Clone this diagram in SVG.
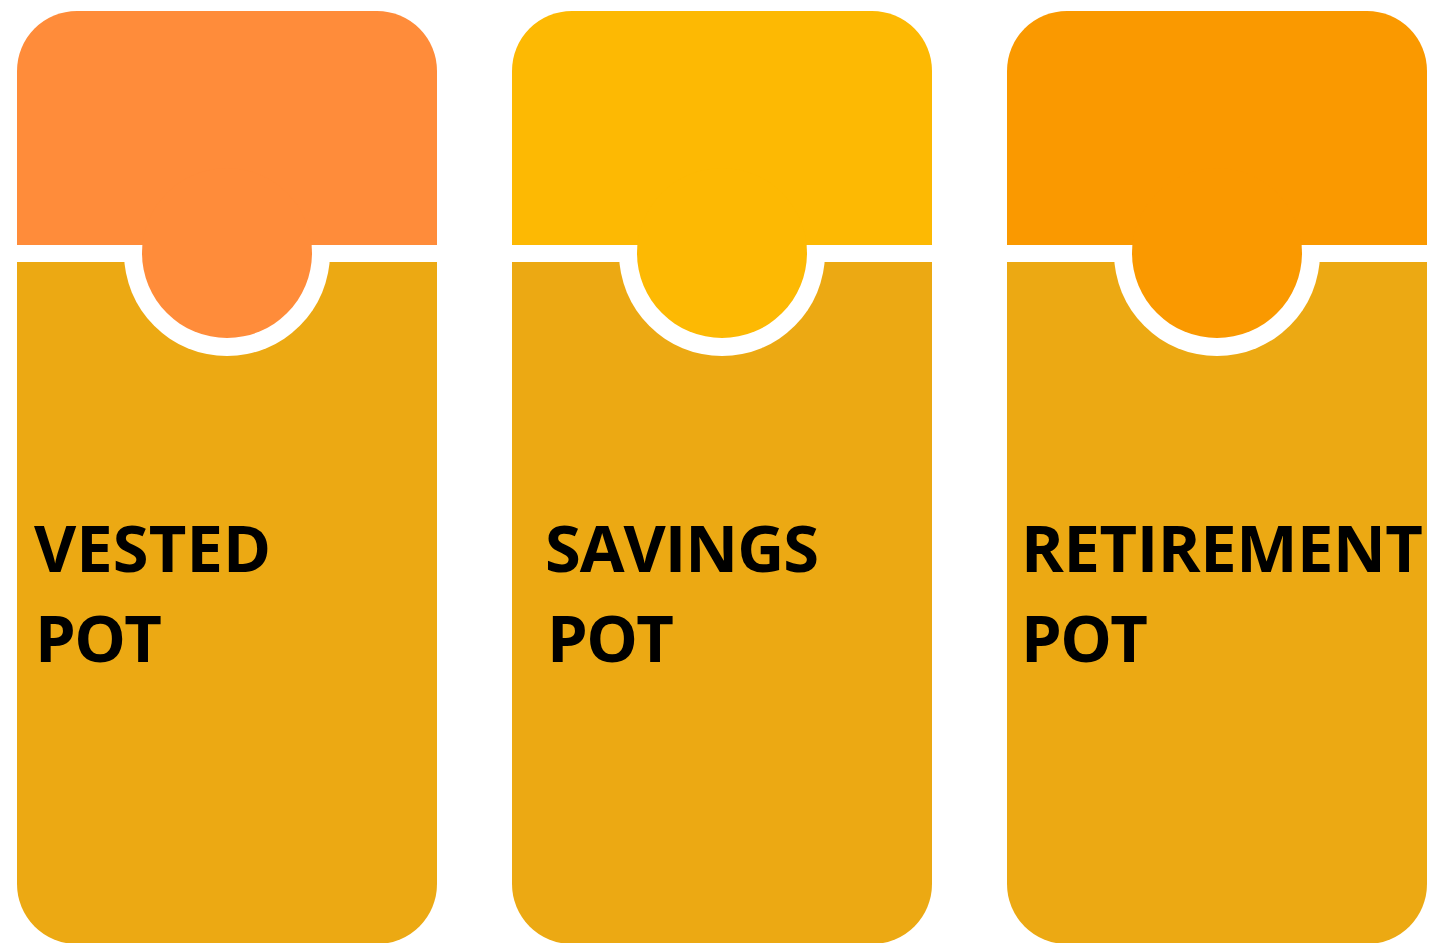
<svg xmlns="http://www.w3.org/2000/svg" width="1430" height="943" viewBox="0 0 1430 943">
<style>
.bot{fill:#ECA913}
.ring{fill:#FFFFFF}
.lbl{font-family:"Open Sans","Noto Sans","Liberation Sans",sans-serif;font-weight:700;font-size:65px;fill:#000}
</style>
<defs>
<path id="topShape" d="M0,60 A60,60 0 0 1 60,0 H360 A60,60 0 0 1 420,60 V234 H0 Z"/>
<path id="botShape" d="M0,0 H420 V622 A60,60 0 0 1 360,682 H60 A60,60 0 0 1 0,622 Z"/>
</defs>
<rect width="1430" height="943" fill="#FFFFFF"/>
<g id="vested">
<use href="#botShape" x="17" y="262" class="bot"/>
<circle cx="227" cy="253" r="103" class="ring"/>
<use href="#topShape" x="17" y="11" fill="#FF8C3A"/>
<circle cx="227" cy="253" r="85" fill="#FF8C3A"/>
<text class="lbl" x="34" y="572" textLength="237" lengthAdjust="spacing">VESTED</text>
<text class="lbl" x="35" y="662" textLength="127" lengthAdjust="spacing">POT</text>
</g>
<g id="savings">
<use href="#botShape" x="512" y="262" class="bot"/>
<circle cx="722" cy="253" r="103" class="ring"/>
<use href="#topShape" x="512" y="11" fill="#FDB903"/>
<circle cx="722" cy="253" r="85" fill="#FDB903"/>
<text class="lbl" x="545" y="572" textLength="274" lengthAdjust="spacing">SAVINGS</text>
<text class="lbl" x="547" y="662" textLength="127" lengthAdjust="spacing">POT</text>
</g>
<g id="retirement">
<use href="#botShape" x="1007" y="262" class="bot"/>
<circle cx="1217" cy="253" r="103" class="ring"/>
<use href="#topShape" x="1007" y="11" fill="#FA9900"/>
<circle cx="1217" cy="253" r="85" fill="#FA9900"/>
<text class="lbl" x="1021" y="572" textLength="402" lengthAdjust="spacing">RETIREMENT</text>
<text class="lbl" x="1021" y="662" textLength="127" lengthAdjust="spacing">POT</text>
</g>
<g id="connectors"/>
</svg>
